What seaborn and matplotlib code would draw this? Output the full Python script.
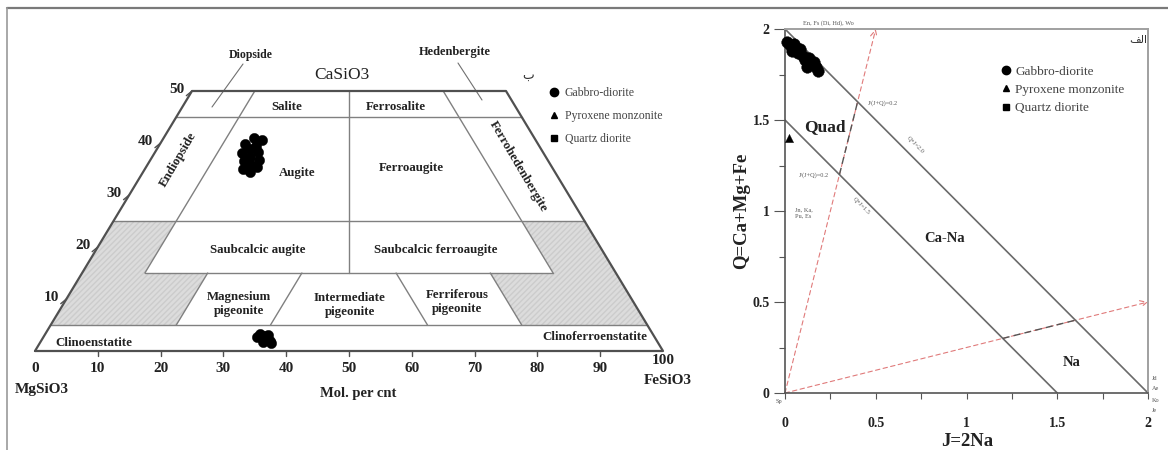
import numpy as np
import pandas as pd
import matplotlib
matplotlib.use("Agg")
import matplotlib.pyplot as plt
import seaborn as sns
from matplotlib.lines import Line2D
from matplotlib.patches import Polygon

sns.set_theme(style="white")
plt.rcParams["font.family"] = ["Liberation Serif", "DejaVu Sans"]

# ------------------------------------------------------------------ data
groups = ["Gabbro-diorite", "Pyroxene monzonite", "Quartz diorite"]
group_markers = {"Gabbro-diorite": "o", "Pyroxene monzonite": "^", "Quartz diorite": "s"}

# Left panel (Wo = CaSiO3 mol%, Fs = FeSiO3 mol%) - gabbro-diorite, augite cluster
aug_wo = [41.0, 40.5, 39.8, 39.5, 38.8, 38.2, 38.0, 37.4, 36.8, 36.5, 36.0, 35.4, 35.0, 34.5]
aug_fs = [14.4, 15.9, 13.6, 15.4, 14.8, 16.4, 14.0, 15.6, 17.2, 15.0, 16.3, 17.6, 15.7, 17.0]
# low-Ca cluster
low_wo = [3.2, 2.8, 2.4, 2.0, 2.6, 1.8, 3.0, 1.6]
low_fs = [34.2, 35.0, 35.8, 36.4, 34.0, 35.4, 35.6, 36.8]

# Right panel (J = 2Na, Q = Ca+Mg+Fe)
gd_J = [0.01, 0.03, 0.05, 0.04, 0.07, 0.08, 0.10, 0.11, 0.13, 0.14, 0.16, 0.17, 0.18, 0.12]
gd_Q = [1.93, 1.91, 1.92, 1.88, 1.87, 1.89, 1.85, 1.83, 1.84, 1.81, 1.82, 1.79, 1.77, 1.79]
pm_J = [0.02]
pm_Q = [1.40]

# Ticks
wo_ticks = [10, 20, 30, 40, 50]
fs_ticks = [0, 10, 20, 30, 40, 50, 60, 70, 80, 90, 100]
qj_major = [0, 0.5, 1, 1.5, 2]
qj_minor = [0.25, 0.75, 1.25, 1.75]

# Classification boundaries (Poldervaart & Hess quadrilateral)
wo_full_lines = [45, 25, 5]           # horizontal lines across the whole field
wo_partial = (15, 10, 10)             # Wo=15 line from Fs=10 to En=10
fs_lines = [(10, 15, 50), (20, 5, 15), (35, 5, 15)]   # (Fs, Wo_from, Wo_to)
en_lines = [(10, 15, 50), (20, 5, 15), (35, 5, 15)]   # (En, Wo_from, Wo_to)
gray_fs_poly = [(0, 5), (0, 25), (10, 25), (10, 15), (20, 15), (20, 5)]  # (Fs or En, Wo)

# Q-J diagram lines
qj_sum_lines = [2.0, 1.5]
ratio_segments = [((0.3, 1.2), (0.4, 1.6)), ((1.2, 0.3), (1.6, 0.4))]
arrow_tips = [(0.5, 2.0), (2.0, 0.5)]

# ------------------------------------------------------------------ figure
W, H = 1168, 450
fig = plt.figure(figsize=(W / 100, H / 100), dpi=100)
fig.patch.set_facecolor("white")


def rect(x0, y0, x1, y1):
    return [x0 / W, 1 - y1 / H, (x1 - x0) / W, (y1 - y0) / H]


# frame lines of the composite image
fig.add_artist(Line2D([7 / W, 1], [1 - 8 / H, 1 - 8 / H], color="#7a7a7a", lw=1.6,
                      transform=fig.transFigure))
fig.add_artist(Line2D([7 / W, 7 / W], [0, 1 - 8 / H], color="#9a9a9a", lw=1.2,
                      transform=fig.transFigure))

# ================= left panel =================
XP0, XS, YP0, YS = 35.0, 6.28, 351.0, 5.2
axL = fig.add_axes(rect(0, 0, 740, 450))
axL.set_xlim((0 - XP0) / XS, (740 - XP0) / XS)
axL.set_ylim((YP0 - 450) / YS, (YP0 - 0) / YS)
axL.axis("off")


def L(px, py):
    return ((px - XP0) / XS, (YP0 - py) / YS)


def tern(fs, wo):
    return (fs + wo / 2.0, wo)


def tern_en(en, wo):
    return tern(100 - en - wo, wo)


inner = dict(color="#808080", lw=1.0, zorder=2)
outer_c = "#505050"

# gray fields
for side in ("fs", "en"):
    pts = [tern(a, w) if side == "fs" else tern_en(a, w) for a, w in gray_fs_poly]
    axL.add_patch(Polygon(pts, closed=True, facecolor="#dcdcdc", edgecolor="#cccccc",
                          hatch="//////", lw=0, zorder=1))

for wo in wo_full_lines:
    p0, p1 = tern(0, wo), tern(100 - wo, wo)
    axL.plot([p0[0], p1[0]], [wo, wo], **inner)
wo, fsa, ena = wo_partial
p0, p1 = tern(fsa, wo), tern_en(ena, wo)
axL.plot([p0[0], p1[0]], [wo, wo], **inner)
for fs, w0, w1 in fs_lines:
    p0, p1 = tern(fs, w0), tern(fs, w1)
    axL.plot([p0[0], p1[0]], [p0[1], p1[1]], **inner)
for en, w0, w1 in en_lines:
    p0, p1 = tern_en(en, w0), tern_en(en, w1)
    axL.plot([p0[0], p1[0]], [p0[1], p1[1]], **inner)
# En = Fs line
p0, p1 = tern((100 - 15) / 2, 15), tern((100 - 50) / 2, 50)
axL.plot([p0[0], p1[0]], [p0[1], p1[1]], **inner)

# outer quadrilateral
quad = [tern(0, 0), tern(100, 0), tern(50, 50), tern(0, 50), tern(0, 0)]
axL.plot([q[0] for q in quad], [q[1] for q in quad], color=outer_c, lw=1.6, zorder=3)

# pointer lines
for a, b in [((243, 64), (212, 107)), ((458, 63), (482, 100))]:
    pa, pb = L(*a), L(*b)
    axL.plot([pa[0], pb[0]], [pa[1], pb[1]], color="#707070", lw=0.8)

# data points
dfL = pd.DataFrame({
    "x": [f + w / 2 for f, w in zip(aug_fs + low_fs, aug_wo + low_wo)],
    "y": aug_wo + low_wo,
    "group": "Gabbro-diorite",
})
sns.scatterplot(data=dfL, x="x", y="y", marker="o", color="black", s=55,
                edgecolor="black", linewidth=0.3, legend=False, ax=axL, zorder=5)

bold = dict(fontweight="bold", color="#222222")
axL.text(*L(342, 75), "CaSiO3", fontsize=12.5, ha="center", va="center", color="#222222")
axL.text(*L(251, 55), "Diopside", fontsize=8.5, ha="center", va="center", **bold)
axL.text(*L(455, 52), "Hedenbergite", fontsize=9, ha="center", va="center", **bold)

region_labels = [
    ("Salite", 287, 107, 0), ("Ferrosalite", 396, 107, 0),
    ("Endiopside", 178, 160, 59.5), ("Augite", 297, 173, 0),
    ("Ferroaugite", 411, 168, 0), ("Ferrohedenbergite", 518, 167, -59.5),
    ("Saubcalcic augite", 258, 250, 0), ("Saubcalcic ferroaugite", 436, 250, 0),
    ("Magnesium\npigeonite", 239, 304, 0), ("Intermediate\npigeonite", 350, 305, 0),
    ("Ferriferous\npigeonite", 457, 302, 0),
    ("Clinoenstatite", 94, 343, 0), ("Clinoferroenstatite", 595, 337, 0),
]
for txt, px, py, rot in region_labels:
    axL.text(*L(px, py), txt, fontsize=9.3, ha="center", va="center", rotation=rot,
             rotation_mode="anchor", linespacing=1.15, **bold)

# Wo ticks on the left edge
for w in wo_ticks:
    ex, ey = tern(0, w)
    axL.plot([ex, ex - 0.9], [w, w - 0.9], color=outer_c, lw=1.0)
    axL.text(ex - 1.2, w + 0.3, str(w), fontsize=11, ha="right", va="center", **bold)

# Fs ticks on base
for f in fs_ticks:
    if 0 < f < 100:
        axL.plot([f, f], [0, -1.0], color=outer_c, lw=1.0)
    yy = L(0, 361)[1] if f == 100 else L(0, 369)[1]
    axL.text(f, yy, str(f), fontsize=11, ha="center", va="center", **bold)

axL.text(*L(42, 389), "MgSiO3", fontsize=11, ha="center", va="center", **bold)
axL.text(*L(358, 394), "Mol. per cnt", fontsize=10.5, ha="center", va="center", **bold)
axL.text(*L(668, 381), "FeSiO3", fontsize=11, ha="center", va="center", **bold)
axL.text(*L(528, 76), "ب", fontsize=9, ha="center", va="center", color="#333333")

handles = [Line2D([], [], marker=group_markers[g], ls="none", color="black",
                  markersize=6 if g == "Gabbro-diorite" else 5) for g in groups]
legL = axL.legend(handles, groups, loc="upper left", bbox_to_anchor=(543 / W, 1 - 81 / H),
                  bbox_transform=fig.transFigure, frameon=False, fontsize=8.5,
                  handlelength=0.9, handletextpad=0.45, labelspacing=0.95, borderpad=0)
for t in legL.get_texts():
    t.set_color("#444444")

# ================= right panel =================
axR = fig.add_axes(rect(785, 29, 1148, 393))
axR.set_xlim(0, 2)
axR.set_ylim(0, 2)
axR.set_facecolor("white")


def R(px, py):
    return ((px - 785) / 181.5, (393 - py) / 182.0)


for s in qj_sum_lines:
    axR.plot([0, s], [s, 0], color="#6a6a6a", lw=1.2, zorder=2)
for (a, b) in ratio_segments:
    axR.plot([a[0], b[0]], [a[1], b[1]], color="#555555", lw=1.0, ls=(0, (5, 3)), zorder=3)
for tip in arrow_tips:
    axR.annotate("", xy=tip, xytext=(0, 0),
                 arrowprops=dict(arrowstyle="->", color="#e07a7a", lw=0.8,
                                 linestyle=(0, (4, 3)), shrinkA=0, shrinkB=0),
                 annotation_clip=False, zorder=1)

dfR = pd.DataFrame({"J": gd_J + pm_J, "Q": gd_Q + pm_Q,
                    "group": ["Gabbro-diorite"] * len(gd_J) + ["Pyroxene monzonite"] * len(pm_J)})
sns.scatterplot(data=dfR[dfR.group == "Gabbro-diorite"], x="J", y="Q", marker="o",
                color="black", s=70, edgecolor="black", linewidth=0.3, legend=False,
                ax=axR, zorder=5, clip_on=False)
sns.scatterplot(data=dfR[dfR.group == "Pyroxene monzonite"], x="J", y="Q", marker="^",
                color="black", s=35, edgecolor="black", linewidth=0.3, legend=False,
                ax=axR, zorder=5, clip_on=False)

for side in ["left", "bottom"]:
    axR.spines[side].set_color("#555555")
    axR.spines[side].set_linewidth(1.2)
for side in ["top", "right"]:
    axR.spines[side].set_color("#a0a0a0")
    axR.spines[side].set_linewidth(1.4)

axR.set_xticks(qj_major)
axR.set_xticks(qj_minor, minor=True)
axR.set_yticks(qj_major)
axR.set_yticks(qj_minor, minor=True)
axR.set_xticklabels(["0", "0.5", "1", "1.5", "2"], fontsize=10, fontweight="bold", color="#222222")
axR.set_yticklabels(["0", "0.5", "1", "1.5", "2"], fontsize=10, fontweight="bold", color="#222222")
axR.tick_params(axis="x", which="both", direction="out", length=4, width=0.8,
                color="#555555", pad=13, bottom=True)
axR.tick_params(axis="y", which="major", direction="out", length=8, width=0.8,
                color="#555555", pad=3, left=True)
axR.tick_params(axis="y", which="minor", direction="out", length=4, width=0.8,
                color="#555555", left=True)
axR.set_xlabel("")
axR.set_ylabel("")
axR.grid(False)

axR.text(*R(967, 442), "J=2Na", fontsize=13.5, fontweight="bold", ha="center",
         va="center", color="#222222", clip_on=False)
axR.text(*R(742, 211), "Q=Ca+Mg+Fe", fontsize=13.5, fontweight="bold", ha="center",
         va="center", rotation=90, color="#222222", clip_on=False)

axR.text(*R(825, 127), "Quad", fontsize=12.5, ha="center", va="center", **bold)
axR.text(*R(945, 238), "Ca-Na", fontsize=10.5, ha="center", va="center", **bold)
axR.text(*R(1072, 362), "Na", fontsize=10.5, ha="center", va="center", **bold)

tiny = dict(fontsize=4.5, color="#555555", ha="center", va="center")
axR.text(*R(828, 23), "En, Fs (Di, Hd), Wo", **tiny)
axR.text(*R(883, 103), "J/(J+Q)=0.2", **tiny)
axR.text(*R(814, 175), "J/(J+Q)=0.2", **tiny)
axR.text(0.716, 1.363, "Q+J=2.0", rotation=-45, rotation_mode="anchor", **tiny)
axR.text(0.42, 1.03, "Q+J=1.5", rotation=-45, rotation_mode="anchor", **tiny)
axR.text(*R(795, 213), "Jn, Ka,\nPu, Es", fontsize=4.5, color="#555555", ha="left",
         va="center", linespacing=1.1)
for lab, py in zip(["Jd", "Ae", "Ko", "Je"], [378, 389, 400, 410]):
    axR.text(*R(1152, py), lab, fontsize=4.5, color="#555555", ha="left", va="center",
             clip_on=False)
axR.text(*R(779, 402), "Sp", **tiny)
axR.text(*R(1138, 40), "\ufed2\ufedf\ufe8d", fontsize=8, color="#333333", ha="center",
         va="center", family=["DejaVu Sans"])

legR = axR.legend(handles, groups, loc="upper left", bbox_to_anchor=(994 / W, 1 - 59 / H),
                  bbox_transform=fig.transFigure, frameon=False, fontsize=9.5,
                  handlelength=0.8, handletextpad=0.3, labelspacing=0.45, borderpad=0)
for t in legR.get_texts():
    t.set_color("#444444")

fig.savefig("out.png", dpi=100, facecolor="white")
